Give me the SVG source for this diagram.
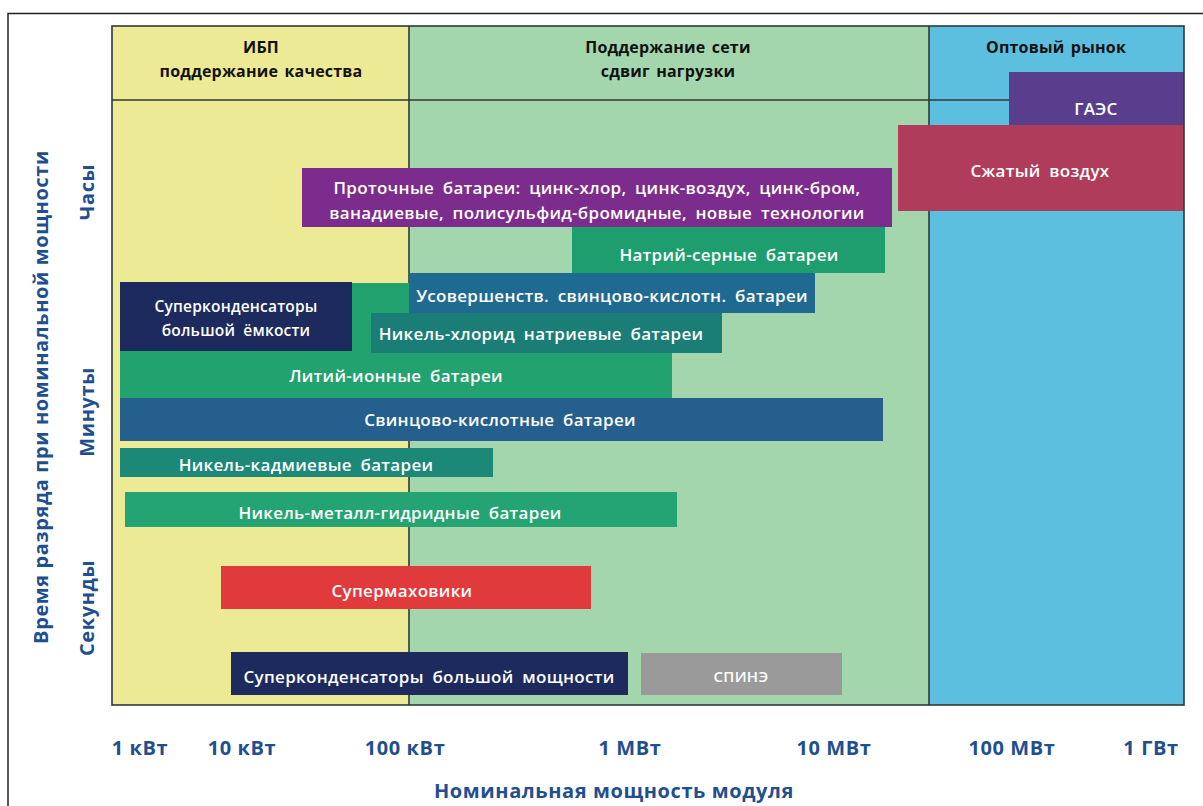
<svg xmlns="http://www.w3.org/2000/svg" width="1203" height="806" viewBox="0 0 1203 806">
  <style>
    .zone-border { fill: none; stroke: #2f3a36; stroke-width: 1.6; }
    .hdr { font-family: "Open Sans", "Liberation Sans", sans-serif; font-weight: 700; font-size: 16px; letter-spacing: 0.2px; word-spacing: 2px; fill: #111; text-anchor: middle; }
    .lbl { font-family: "Open Sans", "Liberation Sans", sans-serif; font-weight: 600; font-size: 17px; letter-spacing: 0.3px; word-spacing: 4px; fill: #ffffff; text-anchor: middle; dominant-baseline: central; }
    .lbl-sm { font-size: 15.5px; letter-spacing: 0.2px; }
    .axis { font-family: "Open Sans", "Liberation Sans", sans-serif; font-weight: 700; font-size: 20px; letter-spacing: 0.6px; fill: #1f4f8f; text-anchor: middle; dominant-baseline: central; }
  </style>

  <!-- page frame -->
  <rect x="0" y="0" width="1203" height="806" fill="#ffffff"/>
  <path d="M8 806 V13.5 H1203" fill="none" stroke="#222" stroke-width="1.5"/>

  <!-- application zones -->
  <g id="zones">
    <rect x="112" y="26" width="297" height="679" fill="#ecea94"/>
    <rect x="409" y="26" width="520" height="679" fill="#a3d6ad"/>
    <rect x="929" y="26" width="255" height="679" fill="#5dbfe0"/>
  </g>

  <!-- zone dividers and header rule, behind the bars -->
  <g id="connectors">
    <line class="zone-border" x1="409" y1="26" x2="409" y2="705"/>
    <line class="zone-border" x1="929" y1="26" x2="929" y2="705"/>
    <line class="zone-border" x1="112" y1="100" x2="1184" y2="100"/>
  </g>

  <!-- zone headers -->
  <g id="hdr-ups">
    <text class="hdr" x="261" y="53">ИБП</text>
    <text class="hdr" x="261" y="77">поддержание  качества</text>
  </g>
  <g id="hdr-grid">
    <text class="hdr" x="668" y="53">Поддержание сети</text>
    <text class="hdr" x="668" y="77">сдвиг нагрузки</text>
  </g>
  <g id="hdr-wholesale">
    <text class="hdr" x="1056" y="53">Оптовый рынок</text>
  </g>

  <!-- technology bars (drawn back to front) -->
  <g id="bar-pumped-hydro">
    <rect x="1009" y="72" width="175" height="53" fill="#5a3e8e"/>
    <text class="lbl" x="1096" y="108">ГАЭС</text>
  </g>
  <g id="bar-compressed-air">
    <rect x="898" y="125" width="286" height="86" fill="#b03c5c"/>
    <text class="lbl" x="1040" y="170">Сжатый воздух</text>
  </g>
  <g id="bar-flow">
    <rect x="302" y="168" width="590" height="59" fill="#7c2c8c"/>
    <text class="lbl" x="597" y="187">Проточные батареи: цинк-хлор, цинк-воздух, цинк-бром,</text>
    <text class="lbl" x="597" y="212">ванадиевые, полисульфид-бромидные, новые технологии</text>
  </g>
  <g id="bar-nas">
    <rect x="572" y="227" width="313" height="46" fill="#1e9e6e"/>
    <text class="lbl" x="729" y="254">Натрий-серные батареи</text>
  </g>
  <g id="bar-li-ion">
    <rect x="120" y="283" width="552" height="115" fill="#22a26f"/>
    <text class="lbl" x="396" y="375">Литий-ионные батареи</text>
  </g>
  <g id="bar-adv-lead">
    <rect x="409" y="273" width="406" height="40" fill="#1f6a90"/>
    <text class="lbl" x="612" y="295">Усовершенств. свинцово-кислотн. батареи</text>
  </g>
  <g id="bar-nicl">
    <rect x="371" y="313" width="351" height="40" fill="#1a7d76"/>
    <text class="lbl" x="541" y="333">Никель-хлорид натриевые батареи</text>
  </g>
  <g id="bar-supercap-energy">
    <rect x="120" y="282" width="232" height="69" fill="#1c2a5e"/>
    <text class="lbl lbl-sm" x="236" y="306">Суперконденсаторы</text>
    <text class="lbl lbl-sm" x="236" y="330">большой ёмкости</text>
  </g>
  <g id="bar-lead-acid">
    <rect x="120" y="398" width="763" height="43" fill="#245f8e"/>
    <text class="lbl" x="500" y="419">Свинцово-кислотные батареи</text>
  </g>
  <g id="bar-nicd">
    <rect x="120" y="448" width="373" height="29" fill="#1b8878"/>
    <text class="lbl" x="306" y="464">Никель-кадмиевые батареи</text>
  </g>
  <g id="bar-nimh">
    <rect x="125" y="492" width="552" height="35" fill="#24a472"/>
    <text class="lbl" x="400" y="512">Никель-металл-гидридные батареи</text>
  </g>
  <g id="bar-flywheel">
    <rect x="221" y="566" width="370" height="43" fill="#e13a3c"/>
    <text class="lbl" x="402" y="590">Супермаховики</text>
  </g>
  <g id="bar-supercap-power">
    <rect x="231" y="652" width="397" height="43" fill="#1c2a5e"/>
    <text class="lbl" x="429" y="676">Суперконденсаторы большой мощности</text>
  </g>
  <g id="bar-smes">
    <rect x="641" y="653" width="201" height="42" fill="#9a9a9a"/>
    <text class="lbl" x="741" y="676" style="font-size:15px">СПИНЭ</text>
  </g>

  <!-- chart outline -->
  <rect class="zone-border" x="112" y="26" width="1072" height="679"/>

  <!-- axes -->
  <g id="y-axis">
    <text class="axis" transform="translate(40 397) rotate(-90)">Время разряда при номинальной мощности</text>
    <text class="axis" transform="translate(86 192) rotate(-90)">Часы</text>
    <text class="axis" transform="translate(86 412) rotate(-90)">Минуты</text>
    <text class="axis" transform="translate(86 608) rotate(-90)">Секунды</text>
  </g>
  <g id="x-axis">
    <text class="axis" x="140" y="747">1 кВт</text>
    <text class="axis" x="242" y="747">10 кВт</text>
    <text class="axis" x="405" y="747">100 кВт</text>
    <text class="axis" x="630" y="747">1 МВт</text>
    <text class="axis" x="834" y="747">10 МВт</text>
    <text class="axis" x="1012" y="747">100 МВт</text>
    <text class="axis" x="1151" y="747">1 ГВт</text>
    <text class="axis" x="614" y="790">Номинальная мощность модуля</text>
  </g>
</svg>
